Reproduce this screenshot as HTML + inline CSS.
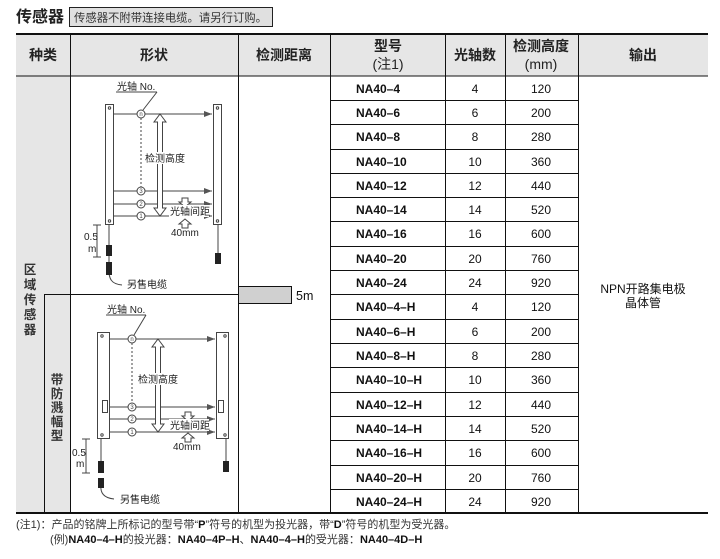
<!DOCTYPE html>
<html><head><meta charset="utf-8"><style>
body{margin:0;background:#fff;}
svg{display:block;font-family:"Liberation Sans","Noto Sans CJK SC",sans-serif;}
</style></head><body>
<svg width="720" height="559" viewBox="0 0 720 559" xmlns="http://www.w3.org/2000/svg">
<defs>
<marker id="ah" markerWidth="8" markerHeight="6" refX="8" refY="3" orient="auto" markerUnits="userSpaceOnUse"><path d="M0,0 L8,3 L0,6 z" fill="#555"/></marker>
</defs>
<text x="16" y="22" font-size="16" font-weight="bold" fill="#222">传感器</text>
<rect x="69.5" y="7.5" width="203" height="19" fill="#e0e0e0" stroke="#222" stroke-width="1"/>
<text x="74" y="21.5" font-size="11.5" fill="#333" textLength="193" lengthAdjust="spacingAndGlyphs">传感器不附带连接电缆。请另行订购。</text>
<rect x="16" y="34" width="692" height="42" fill="#e6e6e6"/>
<rect x="16" y="76" width="54" height="437" fill="#e6e6e6"/>
<line x1="16" y1="34" x2="708" y2="34" stroke="#111" stroke-width="2"/>
<line x1="16" y1="76" x2="708" y2="76" stroke="#111" stroke-width="1"/>
<line x1="16" y1="513" x2="708" y2="513" stroke="#111" stroke-width="2"/>
<g stroke="#111" stroke-width="1">
<line x1="70.5" y1="34" x2="70.5" y2="513"/>
<line x1="238.5" y1="34" x2="238.5" y2="513"/>
<line x1="330.5" y1="34" x2="330.5" y2="513"/>
<line x1="445.5" y1="34" x2="445.5" y2="513"/>
<line x1="505.5" y1="34" x2="505.5" y2="513"/>
<line x1="578.5" y1="34" x2="578.5" y2="513"/>
<line x1="44.5" y1="294" x2="44.5" y2="513"/>
<line x1="44" y1="294.5" x2="238" y2="294.5"/>
</g>
<g font-size="14" font-weight="bold" fill="#222" text-anchor="middle">
<text x="43" y="60">种类</text>
<text x="154" y="60">形状</text>
<text x="284" y="60">检测距离</text>
<text x="388" y="51">型号</text>
<text x="388" y="69" font-weight="normal">(注1)</text>
<text x="475" y="60">光轴数</text>
<text x="541" y="51">检测高度</text>
<text x="541" y="69" font-weight="normal">(mm)</text>
<text x="643" y="60">输出</text>
</g>
<g font-size="12" fill="#111">
<g stroke="#111" stroke-width="1">
<line x1="330" y1="100.5" x2="578" y2="100.5"/>
<line x1="330" y1="124.5" x2="578" y2="124.5"/>
<line x1="330" y1="149.5" x2="578" y2="149.5"/>
<line x1="330" y1="173.5" x2="578" y2="173.5"/>
<line x1="330" y1="197.5" x2="578" y2="197.5"/>
<line x1="330" y1="221.5" x2="578" y2="221.5"/>
<line x1="330" y1="246.5" x2="578" y2="246.5"/>
<line x1="330" y1="270.5" x2="578" y2="270.5"/>
<line x1="330" y1="294.5" x2="578" y2="294.5"/>
<line x1="330" y1="319.5" x2="578" y2="319.5"/>
<line x1="330" y1="343.5" x2="578" y2="343.5"/>
<line x1="330" y1="367.5" x2="578" y2="367.5"/>
<line x1="330" y1="392.5" x2="578" y2="392.5"/>
<line x1="330" y1="416.5" x2="578" y2="416.5"/>
<line x1="330" y1="440.5" x2="578" y2="440.5"/>
<line x1="330" y1="465.5" x2="578" y2="465.5"/>
<line x1="330" y1="489.5" x2="578" y2="489.5"/>
</g>
<g font-weight="bold">
<text x="356" y="93">NA40–4</text><text x="356" y="117">NA40–6</text><text x="356" y="141">NA40–8</text>
<text x="356" y="166">NA40–10</text><text x="356" y="190">NA40–12</text><text x="356" y="214">NA40–14</text>
<text x="356" y="238">NA40–16</text><text x="356" y="263">NA40–20</text><text x="356" y="287">NA40–24</text>
<text x="356" y="311">NA40–4–H</text><text x="356" y="336">NA40–6–H</text><text x="356" y="360">NA40–8–H</text>
<text x="356" y="384">NA40–10–H</text><text x="356" y="409">NA40–12–H</text><text x="356" y="433">NA40–14–H</text>
<text x="356" y="457">NA40–16–H</text><text x="356" y="482">NA40–20–H</text><text x="356" y="506">NA40–24–H</text>
</g>
<g text-anchor="middle">
<text x="475" y="93">4</text><text x="475" y="117">6</text><text x="475" y="141">8</text><text x="475" y="166">10</text><text x="475" y="190">12</text><text x="475" y="214">14</text><text x="475" y="238">16</text><text x="475" y="263">20</text><text x="475" y="287">24</text>
<text x="475" y="311">4</text><text x="475" y="336">6</text><text x="475" y="360">8</text><text x="475" y="384">10</text><text x="475" y="409">12</text><text x="475" y="433">14</text><text x="475" y="457">16</text><text x="475" y="482">20</text><text x="475" y="506">24</text>
<text x="541" y="93">120</text><text x="541" y="117">200</text><text x="541" y="141">280</text><text x="541" y="166">360</text><text x="541" y="190">440</text><text x="541" y="214">520</text><text x="541" y="238">600</text><text x="541" y="263">760</text><text x="541" y="287">920</text>
<text x="541" y="311">120</text><text x="541" y="336">200</text><text x="541" y="360">280</text><text x="541" y="384">360</text><text x="541" y="409">440</text><text x="541" y="433">520</text><text x="541" y="457">600</text><text x="541" y="482">760</text><text x="541" y="506">920</text>
<text x="643" y="293">NPN开路集电极</text>
<text x="643" y="307">晶体管</text>
</g>
</g>
<g font-size="12.5" font-weight="bold" fill="#333" text-anchor="middle">
<text x="30" y="274">区</text><text x="30" y="289">域</text><text x="30" y="304">传</text><text x="30" y="319">感</text><text x="30" y="334">器</text>
<text x="57" y="384">带</text><text x="57" y="398">防</text><text x="57" y="412">溅</text><text x="57" y="426">幅</text><text x="57" y="440">型</text>
</g>
<rect x="238.5" y="286.5" width="53" height="17" fill="#d0d0d0" stroke="#111"/>
<text x="296" y="300" font-size="12.5" fill="#111">5m</text>

<g stroke="#444" fill="none" stroke-width="1">
<rect x="105.5" y="104.5" width="8" height="120" fill="#fff"/>
<rect x="213.5" y="104.5" width="8" height="120" fill="#fff"/>
<circle cx="109.5" cy="108" r="1.2"/><circle cx="109.5" cy="221" r="1.2"/>
<circle cx="217.5" cy="108" r="1.2"/><circle cx="217.5" cy="221" r="1.2"/>
<line x1="113" y1="114" x2="212" y2="114" marker-end="url(#ah)"/>
<line x1="113" y1="191" x2="212" y2="191" marker-end="url(#ah)"/>
<line x1="113" y1="204" x2="212" y2="204" marker-end="url(#ah)"/>
<line x1="113" y1="216" x2="212" y2="216" marker-end="url(#ah)"/>
<line x1="141" y1="118" x2="141" y2="187" stroke-dasharray="2,2"/>
<circle cx="141" cy="114" r="4" fill="#fff"/><circle cx="141" cy="191" r="4" fill="#fff"/>
<circle cx="141" cy="204" r="4" fill="#fff"/><circle cx="141" cy="216" r="4" fill="#fff"/>
<path d="M160,114 L166,122 L162.5,122 L162.5,208 L166,208 L160,216 L154,208 L157.5,208 L157.5,122 L154,122 Z" fill="#fff"/>
<path d="M182,198 h6 v4 h3 l-6,5 l-6,-5 h3 z" fill="#fff"/>
<path d="M182,228 h6 v-4 h3 l-6,-5 l-6,5 h3 z" fill="#fff"/>
<line x1="116" y1="92" x2="157" y2="92"/><line x1="157" y1="92" x2="143" y2="110"/>
<line x1="97" y1="225" x2="97" y2="257"/><line x1="93" y1="225" x2="101" y2="225"/><line x1="93" y1="257" x2="101" y2="257"/>
<line x1="109" y1="225" x2="109" y2="262"/><line x1="218" y1="225" x2="218" y2="255"/>
<path d="M109,266 C108,280 112,284 122,285"/>
</g>
<g font-size="6" fill="#444" text-anchor="middle"><text x="141" y="116">n</text><text x="141" y="193">3</text><text x="141" y="206">2</text><text x="141" y="218">1</text></g>
<rect x="106" y="245" width="6" height="11" fill="#222"/><rect x="106" y="262" width="6" height="13" fill="#222"/>
<rect x="215" y="253" width="6" height="11" fill="#222"/>
<g font-size="10" fill="#222">
<text x="117" y="90">光轴 No.</text>
<rect x="145" y="152" width="42" height="12" fill="#fff"/><text x="145" y="162">检测高度</text>
<rect x="169" y="205" width="40" height="12" fill="#fff"/><text x="170" y="215">光轴间距</text>
<text x="171" y="236">40mm</text>
<text x="84" y="240">0.5</text><text x="88" y="252">m</text>
<text x="127" y="288">另售电缆</text>
</g>

<g stroke="#444" fill="none" stroke-width="1">
<rect x="97.5" y="332.5" width="12" height="106" fill="#fff"/>
<rect x="216.5" y="332.5" width="12" height="106" fill="#fff"/>
<rect x="102.5" y="400.5" width="5" height="12"/><rect x="218.5" y="400.5" width="5" height="12"/>
<circle cx="102" cy="336" r="1.2"/><circle cx="102" cy="435" r="1.2"/>
<circle cx="225" cy="336" r="1.2"/><circle cx="225" cy="435" r="1.2"/>
<line x1="110" y1="339" x2="215" y2="339" marker-end="url(#ah)"/>
<line x1="110" y1="407" x2="215" y2="407" marker-end="url(#ah)"/>
<line x1="110" y1="419" x2="215" y2="419" marker-end="url(#ah)"/>
<line x1="110" y1="432" x2="215" y2="432" marker-end="url(#ah)"/>
<line x1="132" y1="343" x2="132" y2="403" stroke-dasharray="2,2"/>
<circle cx="132" cy="339" r="4" fill="#fff"/><circle cx="132" cy="407" r="4" fill="#fff"/>
<circle cx="132" cy="419" r="4" fill="#fff"/><circle cx="132" cy="432" r="4" fill="#fff"/>
<path d="M158,339 L164,347 L160.5,347 L160.5,424 L164,424 L158,432 L152,424 L155.5,424 L155.5,347 L152,347 Z" fill="#fff"/>
<path d="M185,412 h6 v4 h3 l-6,5 l-6,-5 h3 z" fill="#fff"/>
<path d="M185,442 h6 v-4 h3 l-6,-5 l-6,5 h3 z" fill="#fff"/>
<line x1="106" y1="315" x2="146" y2="315"/><line x1="146" y1="315" x2="134" y2="335"/>
<line x1="86" y1="439" x2="86" y2="473"/><line x1="82" y1="439" x2="90" y2="439"/><line x1="82" y1="473" x2="90" y2="473"/>
<line x1="101" y1="439" x2="101" y2="462"/><line x1="226" y1="439" x2="226" y2="462"/>
<path d="M101,485 C100,493 104,498 114,499"/>
</g>
<g font-size="6" fill="#444" text-anchor="middle"><text x="132" y="341">n</text><text x="132" y="409">3</text><text x="132" y="421">2</text><text x="132" y="434">1</text></g>
<rect x="98" y="461" width="6" height="12" fill="#222"/><rect x="98" y="478" width="6" height="10" fill="#222"/>
<rect x="223" y="461" width="6" height="11" fill="#222"/>
<g font-size="10" fill="#222">
<text x="107" y="313">光轴 No.</text>
<rect x="137" y="373" width="42" height="12" fill="#fff"/><text x="138" y="383">检测高度</text>
<rect x="169" y="419" width="40" height="12" fill="#fff"/><text x="170" y="429">光轴间距</text>
<text x="173" y="450">40mm</text>
<text x="72" y="456">0.5</text><text x="76" y="467">m</text>
<text x="120" y="503">另售电缆</text>
</g>

<g font-size="11" fill="#333">
<text x="16" y="528">(注1)：产品的铭牌上所标记的型号带“<tspan font-weight="bold" fill="#111">P</tspan>”符号的机型为投光器，带“<tspan font-weight="bold" fill="#111">D</tspan>”符号的机型为受光器。</text>
<text x="50" y="543">(例)<tspan font-weight="bold" fill="#111">NA40–4–H</tspan>的投光器：<tspan font-weight="bold" fill="#111">NA40–4P–H</tspan>、<tspan font-weight="bold" fill="#111">NA40–4–H</tspan>的受光器：<tspan font-weight="bold" fill="#111">NA40–4D–H</tspan></text>
</g>
</svg>
</body></html>
